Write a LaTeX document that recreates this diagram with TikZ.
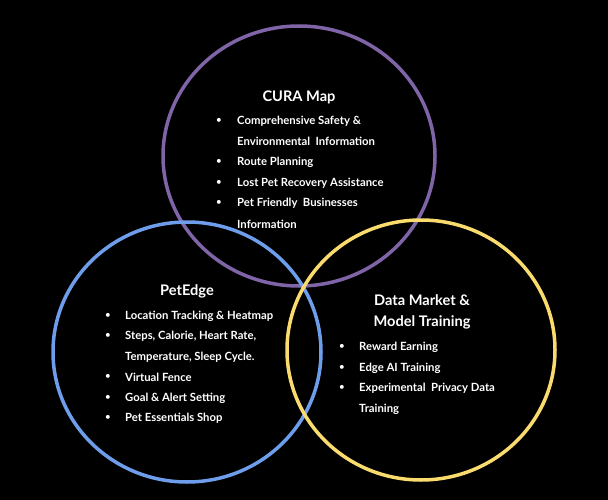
\documentclass[tikz,border=0pt]{standalone}
\usepackage{fontspec}
\setmainfont{Lato}
\definecolor{curapurple}{RGB}{128,100,168}
\definecolor{edgeblue}{RGB}{110,158,235}
\definecolor{marketyellow}{RGB}{250,220,110}
\begin{document}
\begin{tikzpicture}
  [x=1pt,y=-1pt,
   every node/.style={text=white,inner sep=0pt},
   item/.style={anchor=west,font=\bfseries\fontsize{11.3}{13}\selectfont},
   dot/.style={font=\fontsize{10.5}{12}\selectfont},
   title/.style={font=\bfseries\fontsize{14.6}{17}\selectfont},
   ring/.style={line width=3.5pt}]
\useasboundingbox (0,0) rectangle (608,500);
\fill[black] (0,0) rectangle (608,500);
  % Los tres circulos
  \draw[ring,curapurple] (299,156) ellipse [x radius=136, y radius=130];
  \draw[ring,edgeblue] (187,352) ellipse [x radius=134, y radius=130];
  \draw[ring,marketyellow] (421,350) ellipse [x radius=134, y radius=130];

  % CURA Map
  \node[title] (cura) at (299,97) {CURA Map};
  \foreach \y/\t [count=\i] in {121/Comprehensive Safety \&, 141/Environmental~ Information,
      162/Route Planning, 183/Lost Pet Recovery Assistance,
      203/Pet Friendly~ Businesses, 224/Information}
    \node[item] (cura\i) at (237,\y) {\t};
  \foreach \y [count=\i] in {121,162,183,203}
    \node[dot] (curab\i) at (219,\y) {\textbullet};

  % PetEdge
  \node[title] (petedge) at (187,291) {PetEdge};
  \foreach \y/\t [count=\i] in {316/Location Tracking \& Heatmap, {336/Steps, Calorie, Heart Rate,},
      357/Temperature{,} Sleep Cycle., 377/Virtual Fence,
      398/Goal \& Alert Setting, 418/Pet Essentials Shop}
    \node[item] (edge\i) at (125,\y) {\t};
  \foreach \y [count=\i] in {316,336,377,398,418}
    \node[dot] (edgeb\i) at (108,\y) {\textbullet};

  % Data Market & Model Training
  \node[title] (market) at (422,300) {Data Market \&};
  \node[title] (training) at (422,322) {Model Training};
  \foreach \y/\t [count=\i] in {347/Reward Earning, 368/Edge AI Training,
      388/Experimental~ Privacy Data, 409/Training}
    \node[item] (data\i) at (359,\y) {\t};
  \foreach \y [count=\i] in {347,368,388}
    \node[dot] (datab\i) at (342,\y) {\textbullet};
\end{tikzpicture}
\end{document}
